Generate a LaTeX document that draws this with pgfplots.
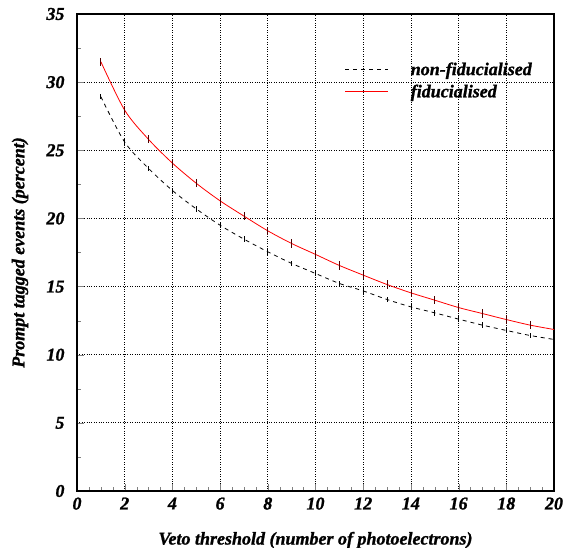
\documentclass[border=0pt]{standalone}
\usepackage{fontspec}
\setmainfont{Liberation Serif}[BoldItalicFeatures={FakeBold=1.2}]
\usepackage{pgfplots}
\pgfplotsset{compat=1.18}
\newcommand{\bifont}{\fontsize{18}{20}\selectfont\bfseries\itshape}
\begin{document}
\begin{tikzpicture}
\begin{axis}[
  scale only axis,
  width=477pt, height=477pt,
  xmin=0, xmax=20, ymin=0, ymax=35,
  xtick={0,2,...,20}, ytick={0,5,...,35},
  minor x tick num=3, minor y tick num=1,
  tick pos=left, tick align=inside,
  major tick length=7pt, minor tick length=4pt,
  axis line style={line width=1.4pt},
  grid=major,
  major grid style={dotted, black, line width=0.8pt},
  /pgf/number format/assume math mode=true,
  xticklabel={\bifont\pgfmathprintnumber{\tick}},
  yticklabel={\bifont\pgfmathprintnumber{\tick}},
  ticklabel style={font=\bifont},
  yticklabel style={xshift=-9pt},
  xticklabel style={yshift=-3pt},
  xlabel={Veto threshold (number of photoelectrons)},
  ylabel={Prompt tagged events (percent)},
  every axis x label/.style={at={(axis description cs:0.5,-0.103)}, anchor=center, font=\bifont},
  every axis y label/.style={at={(axis description cs:-0.1195,0.5)}, anchor=center, rotate=90, font=\bifont},
  legend style={draw=none, fill=none, at={(rel axis cs:0.958,0.903)}, anchor=north east,
    inner sep=0pt, font=\bifont, row sep=4pt, column sep=20pt},
  legend cell align=left,
  legend image code/.code={\draw[#1] (0pt,0pt) -- (43pt,0pt);},
]
\addplot[black, dash pattern=on 4pt off 4pt, line width=0.8pt, smooth, error bars/.cd, y dir=both, y explicit, error bar style={line width=0.8pt, solid}, error mark=none]
coordinates {
(1,28.93) +- (0,0.2)
(2,25.6) +- (0,0.2)
(3,23.67) +- (0,0.2)
(4,22.05) +- (0,0.2)
(5,20.7) +- (0,0.2)
(6,19.5) +- (0,0.2)
(7,18.48) +- (0,0.2)
(8,17.55) +- (0,0.2)
(9,16.7) +- (0,0.2)
(10,15.96) +- (0,0.2)
(11,15.23) +- (0,0.2)
(12,14.68) +- (0,0.2)
(13,14.05) +- (0,0.2)
(14,13.51) +- (0,0.2)
(15,13.07) +- (0,0.2)
(16,12.61) +- (0,0.2)
(17,12.17) +- (0,0.2)
(18,11.78) +- (0,0.2)
(19,11.41) +- (0,0.2)
(20,11.12) +- (0,0)
};
\addlegendentry{non-fiducialised}
\addplot[red, line width=0.8pt, smooth, error bars/.cd, y dir=both, y explicit, error bar style={line width=0.8pt, black!70!red}, error mark=none]
coordinates {
(1,31.5) +- (0,0.3)
(2,27.94) +- (0,0.3)
(3,25.8) +- (0,0.3)
(4,24.06) +- (0,0.3)
(5,22.58) +- (0,0.3)
(6,21.29) +- (0,0.3)
(7,20.17) +- (0,0.3)
(8,19.09) +- (0,0.3)
(9,18.16) +- (0,0.3)
(10,17.36) +- (0,0.3)
(11,16.55) +- (0,0.3)
(12,15.84) +- (0,0.3)
(13,15.15) +- (0,0.3)
(14,14.54) +- (0,0.3)
(15,14.0) +- (0,0.3)
(16,13.46) +- (0,0.3)
(17,13.02) +- (0,0.3)
(18,12.58) +- (0,0.3)
(19,12.17) +- (0,0.3)
(20,11.85) +- (0,0)
};
\addlegendentry{fiducialised}
\end{axis}
\pgfresetboundingbox
\useasboundingbox ([shift={(-77pt,-57pt)}]current axis.south west) rectangle ([shift={(14pt,14pt)}]current axis.north east);
\end{tikzpicture}
\end{document}
